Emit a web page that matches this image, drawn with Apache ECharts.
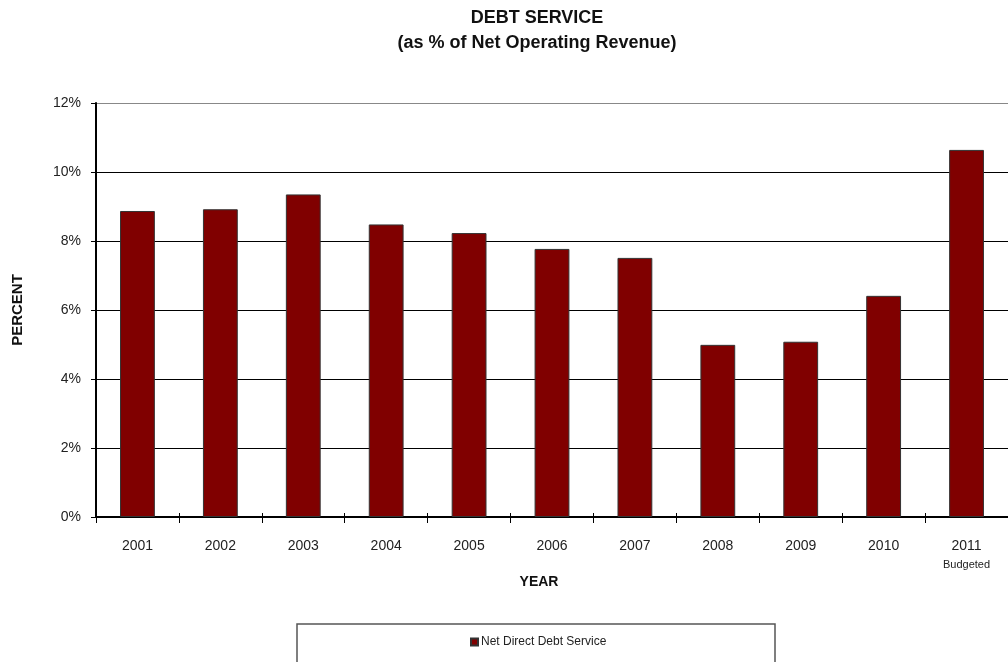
<!DOCTYPE html>
<html>
<head>
<meta charset="utf-8">
<script src="https://cdn.jsdelivr.net/npm/echarts@6/dist/echarts.min.js"></script>
<style>
  html, body { margin: 0; padding: 0; background: #fff; }
  #chart { width: 1008px; height: 662px; }
</style>
</head>
<body>
<div id="chart"></div>
<script>
// Debt service as a share of net operating revenue, by fiscal year
const years = ['2001', '2002', '2003', '2004', '2005', '2006', '2007', '2008', '2009', '2010', '2011'];
const yearNotes = ['', '', '', '', '', '', '', '', '', '', 'Budgeted'];
const netDirectDebtService = [8.87, 8.92, 9.35, 8.48, 8.23, 7.77, 7.51, 4.99, 5.08, 6.41, 10.64];
const percentTicks = [0, 2, 4, 6, 8, 10, 12];

const FONT = '"Liberation Sans", Arial, sans-serif';

const chart = echarts.init(document.getElementById('chart'));

chart.setOption({
  animation: false,
  backgroundColor: '#fff',
  title: {
    text: 'DEBT SERVICE\n(as % of Net Operating Revenue)',
    left: 532,
    top: 1,
    textAlign: 'center',
    textStyle: {
      fontFamily: FONT,
      fontWeight: 'bold',
      fontSize: 18,
      lineHeight: 25,
      color: '#111'
    }
  },
  grid: {
    left: 96,
    top: 103,
    width: 915,
    height: 414,
    containLabel: false
  },
  legend: {
    data: ['Net Direct Debt Service'],
    left: 465,
    top: 631,
    align: 'left',
    itemWidth: 7,
    itemHeight: 7,
    itemGap: 4,
    icon: 'rect',
    textStyle: { fontFamily: FONT, fontSize: 12, color: '#222', padding: [0, 0, 0, -2] }
  },
  graphic: [{
    type: 'rect',
    shape: { x: 297, y: 624, width: 478, height: 60 },
    style: { fill: 'none', stroke: '#555', lineWidth: 1.5 },
    z: -1
  }],
  xAxis: [{
    type: 'category',
    data: years,
    boundaryGap: true,
    name: 'YEAR',
    nameLocation: 'middle',
    nameGap: 54,
    nameTextStyle: {
      fontFamily: FONT, fontWeight: 'bold', fontSize: 14, color: '#111',
      padding: [0, 26, 0, 0]
    },
    axisLine: { lineStyle: { color: '#000', width: 2 } },
    axisTick: { show: true, length: 6, lineStyle: { color: '#000', width: 1 } },
    axisLabel: {
      margin: 22,
      fontFamily: FONT,
      fontSize: 14,
      color: '#222',
      interval: 0,
      formatter: function (value, idx) {
        const note = yearNotes[idx];
        return note ? value + '\n{note|' + note + '}' : value;
      },
      rich: {
        note: { fontFamily: FONT, fontSize: 11, color: '#222', lineHeight: 22, padding: [2, 0, 0, 0] }
      }
    }
  }, {
    // short upward tick marks so the category ticks cross the axis line
    type: 'category',
    data: years,
    position: 'bottom',
    gridIndex: 0,
    axisLine: { show: false },
    axisLabel: { show: false },
    axisTick: { show: true, inside: true, length: 4, lineStyle: { color: '#000', width: 1 } },
    splitLine: { show: false }
  }],
  yAxis: {
    type: 'value',
    min: percentTicks[0],
    max: percentTicks[percentTicks.length - 1],
    interval: 2,
    name: 'PERCENT',
    nameLocation: 'middle',
    nameGap: 71,
    nameRotate: 90,
    nameTextStyle: { fontFamily: FONT, fontWeight: 'bold', fontSize: 15, color: '#111' },
    axisLine: { show: true, lineStyle: { color: '#000', width: 2 } },
    axisTick: { show: true, length: 5, lineStyle: { color: '#000' } },
    axisLabel: {
      margin: 15,
      fontFamily: FONT,
      fontSize: 14,
      color: '#222',
      formatter: '{value}%'
    },
    splitLine: {
      show: true,
      lineStyle: { color: ['#000', '#000', '#000', '#000', '#000', '#000', '#888'], width: 1 }
    }
  },
  series: [{
    name: 'Net Direct Debt Service',
    type: 'bar',
    data: netDirectDebtService,
    barWidth: '42%',
    itemStyle: { color: '#800000', borderColor: '#333', borderWidth: 1 }
  }]
});
</script>
</body>
</html>
